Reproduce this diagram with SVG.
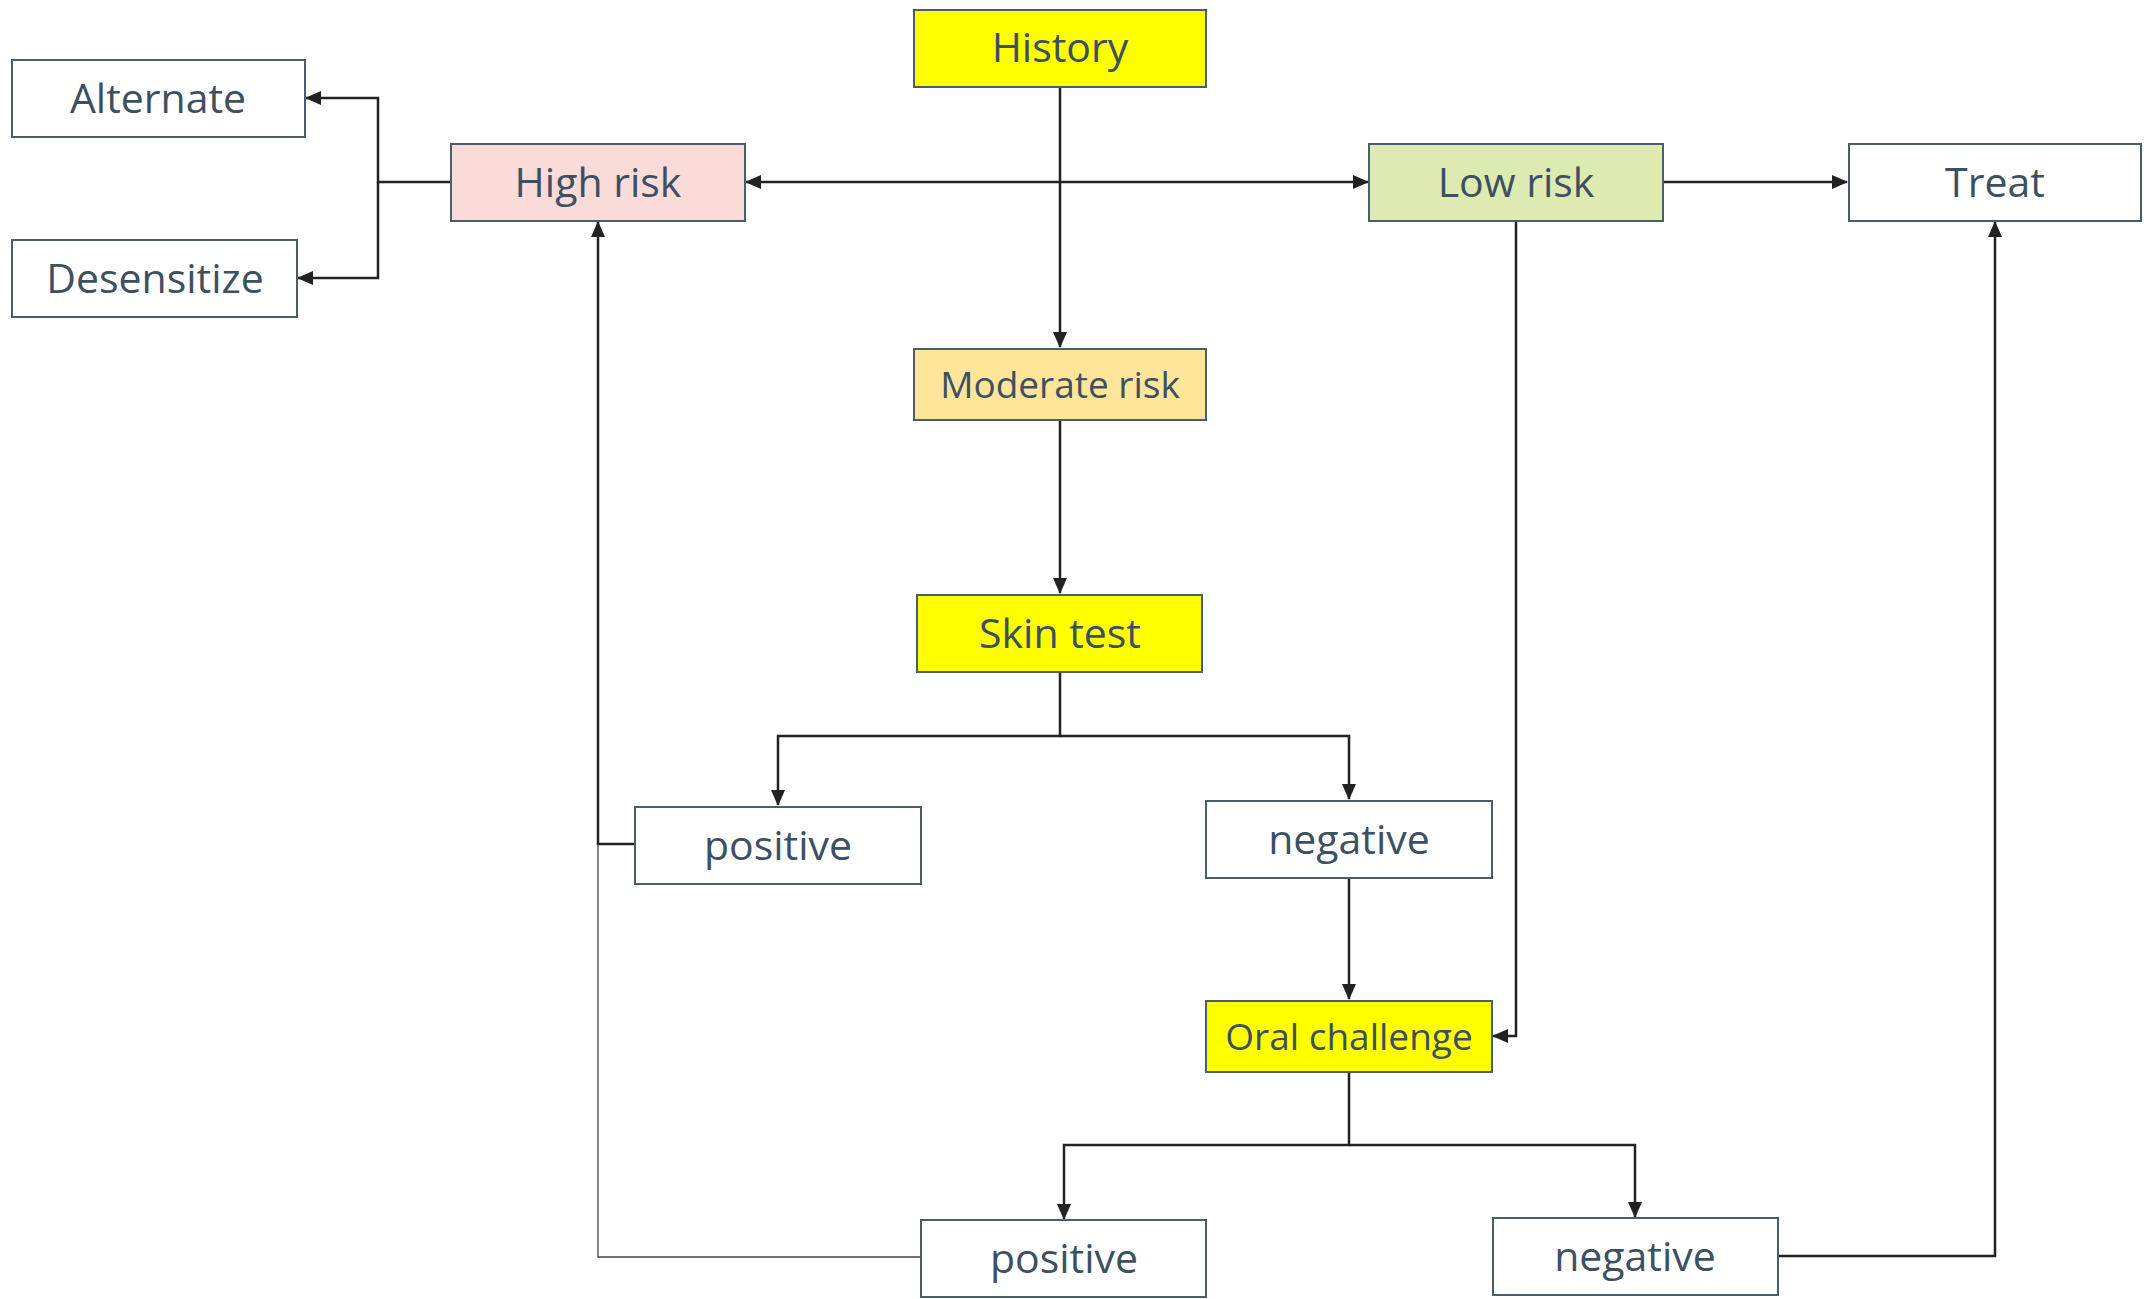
<svg xmlns="http://www.w3.org/2000/svg" width="2144" height="1299" viewBox="0 0 2144 1299">
<style>
.box{stroke:#4a5d6d;stroke-width:2}
.t{font-family:"Open Sans","Liberation Sans",sans-serif;font-size:41px;fill:#3d5061;text-anchor:middle}
.s{font-size:37px}
.c{fill:none;stroke:#222;stroke-width:2.5}
.thin{fill:none;stroke:#444;stroke-width:1.3}
</style>
<defs>
<marker id="a" markerUnits="userSpaceOnUse" markerWidth="16" markerHeight="14" refX="15" refY="7" orient="auto-start-reverse">
<path d="M0,0 L16,7 L0,14 Z" fill="#222"/>
</marker>
</defs>
<rect width="2144" height="1299" fill="#fff"/>
<g id="connectors">
<path class="c" d="M1060,87 V347" marker-end="url(#a)"/>
<path class="c" d="M746,182 H1368" marker-start="url(#a)" marker-end="url(#a)"/>
<path class="c" d="M1663,182 H1847" marker-end="url(#a)"/>
<path class="c" d="M451,182 H378 V98 H306" marker-end="url(#a)"/>
<path class="c" d="M378,182 V278 H298" marker-end="url(#a)"/>
<path class="c" d="M1060,421 V593" marker-end="url(#a)"/>
<path class="c" d="M1060,672 V736 H778 V805" marker-end="url(#a)"/>
<path class="c" d="M1060,736 H1349 V799" marker-end="url(#a)"/>
<path class="c" d="M635,844 H598 V222" marker-end="url(#a)"/>
<path class="thin" d="M921,1257 H598 V844"/>
<path class="c" d="M1349,879 V999" marker-end="url(#a)"/>
<path class="c" d="M1516,221 V1036 H1493" marker-end="url(#a)"/>
<path class="c" d="M1349,1072 V1145 H1064 V1219" marker-end="url(#a)"/>
<path class="c" d="M1349,1145 H1635 V1217" marker-end="url(#a)"/>
<path class="c" d="M1778,1256 H1995 V222" marker-end="url(#a)"/>
</g>
<g id="history"><rect class="box" x="914" y="10" width="292" height="77" fill="#ffff00"/><text class="t" x="1060" y="62">History</text></g>
<g id="alternate"><rect class="box" x="12" y="60" width="293" height="77" fill="#fff"/><text class="t" x="158" y="113">Alternate</text></g>
<g id="desensitize"><rect class="box" x="12" y="240" width="285" height="77" fill="#fff"/><text class="t" x="155" y="293">Desensitize</text></g>
<g id="high-risk"><rect class="box" x="451" y="144" width="294" height="77" fill="#fadbd8"/><text class="t" x="598" y="197">High risk</text></g>
<g id="low-risk"><rect class="box" x="1369" y="144" width="294" height="77" fill="#ddebb2"/><text class="t" x="1516" y="197">Low risk</text></g>
<g id="treat"><rect class="box" x="1849" y="144" width="292" height="77" fill="#fff"/><text class="t" x="1995" y="197">Treat</text></g>
<g id="moderate-risk"><rect class="box" x="914" y="349" width="292" height="71" fill="#ffe599"/><text class="t s" x="1060" y="398">Moderate risk</text></g>
<g id="skin-test"><rect class="box" x="917" y="595" width="285" height="77" fill="#ffff00"/><text class="t" x="1060" y="648">Skin test</text></g>
<g id="positive-1"><rect class="box" x="635" y="807" width="286" height="77" fill="#fff"/><text class="t" x="778" y="860">positive</text></g>
<g id="negative-1"><rect class="box" x="1206" y="801" width="286" height="77" fill="#fff"/><text class="t" x="1349" y="854">negative</text></g>
<g id="oral-challenge"><rect class="box" x="1206" y="1001" width="286" height="71" fill="#ffff00"/><text class="t s" x="1349" y="1050">Oral challenge</text></g>
<g id="positive-2"><rect class="box" x="921" y="1220" width="285" height="77" fill="#fff"/><text class="t" x="1064" y="1273">positive</text></g>
<g id="negative-2"><rect class="box" x="1493" y="1218" width="285" height="77" fill="#fff"/><text class="t" x="1635" y="1271">negative</text></g>
</svg>
